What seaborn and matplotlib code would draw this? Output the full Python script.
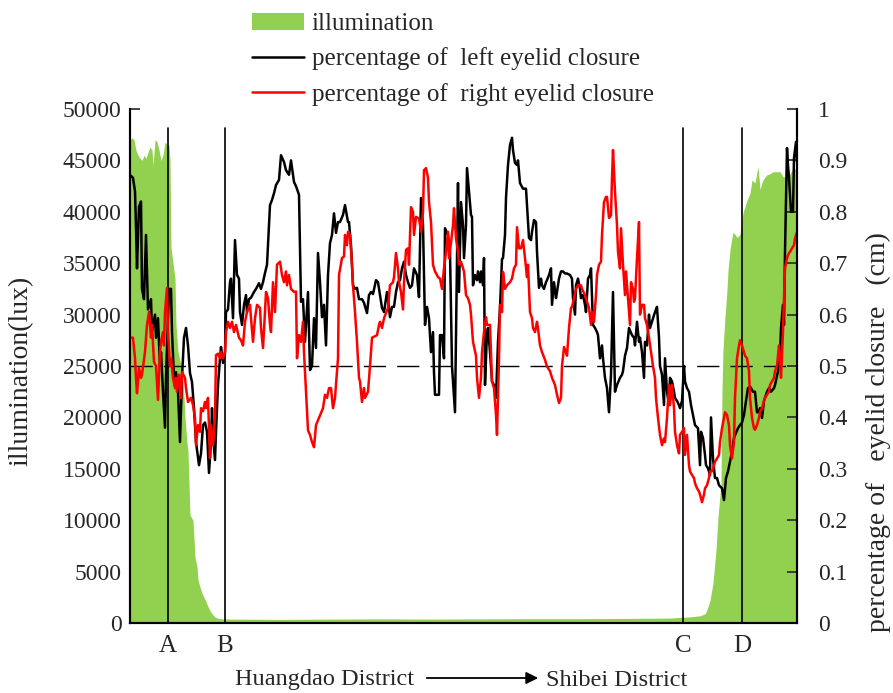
import seaborn as sns
import matplotlib.pyplot as plt
import numpy as np

# route position (arbitrary units along the drive) and readings
black_pos = [1, 3, 5, 6, 7, 9, 11, 12, 14, 16, 18, 21, 22, 25, 26, 28, 30, 31, 33, 35,
             36, 39, 41, 42, 44, 46, 48, 50, 52, 54, 56, 58, 60, 62, 64, 66, 69, 71, 73, 75,
             77, 79, 81, 82, 83, 85, 86, 88, 90, 91, 93, 95, 96, 98, 100, 101, 103, 105, 107, 109,
             110, 112, 114, 116, 117, 119, 121, 124, 126, 129, 131, 133, 135, 137, 140, 142, 144, 146, 149, 151,
             154, 156, 159, 161, 164, 166, 169, 171, 173, 175, 178, 180, 182, 184, 186, 188, 190, 192, 194, 196,
             198, 200, 202, 204, 206, 208, 210, 213, 215, 218, 219, 221, 223, 225, 227, 229, 232, 234, 237, 239,
             241, 243, 246, 248, 250, 252, 254, 257, 259, 260, 262, 264, 266, 268, 270, 272, 274, 276, 278, 280,
             282, 284, 287, 289, 291, 293, 295, 297, 299, 301, 303, 304, 305, 309, 310, 312, 314, 315, 318, 320,
             322, 324, 325, 328, 329, 331, 333, 334, 336, 337, 339, 341, 342, 343, 345, 347, 348, 350, 351, 353,
             354, 355, 357, 358, 360, 362, 364, 366, 368, 370, 372, 373, 375, 376, 378, 380, 382, 383, 385, 387,
             388, 390, 391, 393, 396, 397, 399, 401, 402, 404, 406, 407, 409, 411, 412, 414, 416, 417, 419, 421,
             422, 424, 426, 427, 429, 431, 433, 435, 437, 440, 442, 443, 445, 446, 448, 450, 451, 453, 455, 456,
             458, 460, 461, 463, 465, 467, 468, 470, 472, 473, 475, 477, 479, 481, 483, 485, 487, 490, 492, 493,
             495, 497, 499, 501, 502, 504, 505, 507, 509, 510, 512, 514, 515, 517, 519, 520, 523, 525, 527, 529,
             530, 532, 534, 535, 537, 539, 540, 542, 544, 545, 547, 549, 550, 552, 554, 555, 557, 559, 561, 563,
             565, 568, 570, 571, 573, 575, 576, 578, 580, 581, 583, 585, 587, 589, 592, 594, 596, 598, 600, 602,
             604, 606, 608, 610, 612, 614, 616, 618, 620, 621, 623, 625, 627, 629, 630, 632, 634, 635, 637, 639,
             641, 644, 645, 648, 650, 651, 653, 654, 655, 657, 658, 659, 661, 663, 664, 666, 667]
black_val = [.87, .866, .84, .77, .69, .81, .82, .65, .63, .755, .61, .63, .566, .60, .555, .593, .50, .527, .45, .38,
             .477, .65, .65, .566, .477, .488, .45, .352, .477, .555, .574, .54, .486, .469, .418, .352, .307, .33, .385, .39,
             .372, .292, .352, .418, .365, .317, .372, .463, .515, .537, .506, .527, .605, .61, .663, .67, .593, .745, .677, .67,
             .605, .58, .619, .638, .605, .63, .633, .644, .65, .661, .65, .663, .681, .697, .813, .823, .836, .852, .862, .91,
             .897, .881, .872, .90, .858, .85, .833, .625, .63, .547, .644, .492, .50, .593, .535, .72, .663, .595, .619, .54,
             .677, .739, .755, .797, .759, .78, .78, .794, .813, .78, .78, .735, .657, .65, .652, .63, .63, .623, .603, .638,
             .644, .64, .667, .663, .638, .613, .605, .644, .613, .595, .615, .615, .644, .663, .667, .69, .703, .677, .663, .652,
             .657, .69, .677, .634, .827, .774, .58, .615, .593, .527, .566, .488, .444, .444, .56, .56, .515, .768, .755, .722,
             .50, .438, .41, .856, .644, .819, .774, .71, .774, .885, .839, .794, .79, .657, .677, .667, .684, .663, .684, .657,
             .71, .463, .566, .574, .527, .47, .463, .438, .547, .613, .708, .71, .755, .827, .891, .93, .944, .92, .895, .891,
             .90, .856, .852, .845, .845, .813, .749, .745, .761, .784, .78, .722, .652, .67, .657, .65, .663, .667, .677, .69,
             .619, .663, .632, .644, .67, .684, .684, .68, .68, .677, .67, .632, .60, .657, .67, .65, .632, .638, .619, .605,
             .67, .677, .69, .58, .574, .566, .56, .515, .54, .515, .477, .457, .41, .483, .644, .45, .463, .477, .483, .49,
             .52, .535, .574, .565, .56, .555, .54, .586, .547, .555, .527, .477, .547, .54, .60, .574, .593, .605, .615, .555,
             .50, .483, .424, .515, .45, .424, .477, .47, .45, .438, .432, .424, .418, .432, .50, .47, .457, .45, .424, .405,
             .385, .379, .307, .372, .36, .327, .307, .301, .288, .40, .32, .282, .282, .268, .262, .239, .282, .295, .314, .333,
             .36, .37, .379, .385, .39, .405, .432, .457, .46, .457, .45, .45, .41, .41, .418, .399, .432, .438, .45, .457,
             .45, .457, .463, .49, .515, .574, .619, .58, .722, .924, .89, .866, .80, .80, .905, .936, .897]

red_pos = [1, 3, 5, 6, 7, 9, 11, 12, 15, 17, 19, 21, 22, 24, 26, 28, 30, 31, 33, 34,
           35, 37, 38, 40, 41, 43, 45, 46, 47, 49, 51, 52, 55, 56, 58, 61, 63, 65, 66, 68,
           70, 71, 73, 75, 76, 78, 80, 81, 83, 85, 86, 88, 90, 91, 93, 95, 96, 98, 100, 102,
           104, 106, 109, 111, 113, 115, 117, 120, 121, 123, 125, 127, 130, 131, 133, 135, 136, 138, 140, 141,
           143, 145, 147, 150, 152, 154, 156, 157, 159, 161, 164, 166, 167, 169, 171, 173, 174, 176, 178, 180,
           182, 184, 186, 189, 191, 193, 195, 197, 199, 201, 203, 205, 208, 209, 212, 214, 215, 217, 218, 220,
           222, 223, 225, 227, 229, 230, 232, 234, 235, 238, 240, 242, 244, 247, 249, 250, 252, 254, 256, 258,
           260, 263, 264, 266, 268, 269, 271, 273, 274, 276, 278, 279, 281, 283, 284, 286, 289, 291, 293, 294,
           296, 298, 299, 301, 303, 305, 308, 310, 312, 314, 316, 318, 319, 321, 323, 324, 326, 328, 329, 331,
           333, 334, 336, 338, 340, 341, 343, 346, 347, 349, 351, 352, 354, 356, 357, 360, 362, 364, 366, 367,
           369, 370, 372, 373, 375, 377, 380, 382, 384, 386, 387, 389, 391, 393, 395, 397, 398, 400, 402, 403,
           405, 407, 408, 410, 412, 415, 417, 420, 422, 425, 427, 429, 431, 432, 434, 436, 437, 439, 441, 442,
           444, 446, 448, 451, 452, 455, 457, 459, 461, 462, 464, 466, 467, 469, 471, 472, 474, 476, 477, 479,
           481, 482, 483, 485, 487, 488, 490, 491, 493, 495, 496, 498, 500, 501, 503, 504, 505, 507, 509, 510,
           512, 514, 515, 517, 519, 521, 523, 525, 526, 528, 530, 532, 534, 535, 537, 539, 540, 542, 544, 545,
           547, 549, 550, 552, 554, 555, 557, 559, 560, 562, 564, 565, 567, 569, 570, 572, 574, 575, 577, 579,
           580, 582, 584, 585, 587, 589, 590, 592, 594, 595, 597, 599, 600, 602, 604, 605, 607, 609, 610, 612,
           614, 615, 617, 619, 620, 622, 624, 625, 627, 629, 630, 632, 634, 635, 637, 639, 640, 642, 644, 645,
           647, 649, 650, 651, 653, 654, 655, 657, 659, 660, 662, 664, 665, 667]
red_val = [.555, .555, .515, .477, .447, .496, .477, .483, .527, .58, .605, .555, .58, .508, .50, .434, .527, .547, .566, .54,
           .605, .652, .566, .50, .515, .477, .457, .477, .45, .483, .438, .488, .477, .457, .43, .438, .424, .399, .346, .385,
           .372, .418, .412, .43, .418, .438, .321, .385, .346, .399, .521, .524, .515, .527, .515, .527, .566, .586, .574, .586,
           .566, .58, .555, .55, .54, .586, .605, .619, .593, .547, .593, .619, .613, .574, .535, .605, .644, .632, .58, .566,
           .663, .605, .697, .703, .677, .663, .684, .657, .677, .65, .644, .645, .515, .56, .547, .586, .527, .45, .375, .366,
           .352, .342, .385, .399, .408, .418, .444, .438, .457, .457, .418, .438, .515, .677, .71, .713, .755, .735, .761, .755,
           .697, .657, .605, .547, .477, .47, .43, .457, .438, .45, .50, .555, .557, .56, .58, .586, .574, .593, .603, .613,
           .657, .663, .673, .72, .69, .663, .644, .61, .663, .726, .729, .697, .809, .80, .755, .79, .787, .761, .80, .881,
           .885, .866, .819, .78, .697, .684, .673, .67, .65, .69, .722, .761, .71, .74, .774, .807, .748, .722, .697, .703,
           .69, .684, .638, .632, .619, .60, .547, .52, .477, .438, .477, .527, .566, .595, .58, .58, .47, .457, .405, .366,
           .515, .619, .605, .683, .65, .657, .663, .67, .69, .697, .77, .729, .729, .745, .71, .673, .697, .605, .593, .574,
           .566, .586, .574, .54, .527, .512, .499, .49, .477, .463, .444, .428, .438, .50, .537, .527, .52, .574, .613, .615,
           .632, .65, .657, .657, .65, .638, .625, .613, .58, .605, .586, .638, .677, .697, .703, .755, .819, .829, .829, .788,
           .793, .866, .92, .839, .774, .722, .69, .768, .697, .638, .684, .632, .58, .663, .65, .625, .632, .71, .78, .60,
           .619, .619, .593, .58, .555, .527, .50, .477, .438, .399, .366, .346, .359, .352, .399, .463, .424, .463, .418, .372,
           .346, .33, .366, .372, .379, .327, .366, .307, .295, .288, .282, .272, .262, .256, .25, .235, .25, .262, .268, .282,
           .295, .295, .307, .314, .32, .327, .352, .379, .399, .41, .405, .385, .346, .32, .352, .438, .515, .54, .55, .54,
           .527, .52, .515, .49, .438, .399, .379, .376, .385, .399, .41, .418, .432, .438, .444, .45, .463, .47, .477, .49,
           .50, .54, .515, .477, .566, .632, .69, .71, .72, .722, .729, .735, .748, .761]

illum_pos = [0, 2, 4, 6, 8, 10, 12, 14, 16, 18, 20, 22, 23, 25, 27, 29, 31, 33, 35, 37,
             39, 40, 41, 43, 45, 46, 48, 50, 52, 54, 55, 57, 58, 60, 63, 65, 67, 68, 70, 72,
             75, 78, 80, 82, 85, 88, 92, 100, 150, 200, 250, 300, 350, 400, 450, 500, 540, 560, 570, 575,
             577, 580, 583, 586, 588, 591, 592, 593, 595, 597, 598, 600, 602, 603, 605, 607, 610, 613, 615, 617,
             620, 622, 625, 628, 630, 633, 637, 640, 643, 647, 650, 653, 657, 660, 663, 667]
illum_lux = [47000, 47200, 47000, 46000, 45500, 45200, 45000, 45500, 45200, 45800, 46300, 46000, 44500, 47000, 46800, 46000, 45000, 45500, 46800, 46500,
             46500, 45000, 36500, 35000, 33500, 29000, 26400, 25500, 24800, 22000, 20000, 17500, 16700, 10500, 10000, 6400, 5500, 4200, 3500, 2900,
             2300, 1600, 1200, 900, 580, 450, 400, 380, 350, 380, 400, 380, 400, 420, 420, 450, 480, 600, 700, 900,
             1260, 2200, 3900, 7100, 10300, 13600, 22700, 26600, 29800, 32400, 34300, 36300, 37500, 38000, 37800, 37500, 37800, 39900, 40500, 41100,
             41800, 43100, 42800, 44400, 42200, 43100, 43600, 43700, 43900, 43900, 43900, 43400, 43400, 43700, 44200, 44200]

section_pos = [38, 95, 553, 612]
section_names = ['A', 'B', 'C', 'D']

sns.set_style("ticks")
plt.rcParams['font.family'] = ['Liberation Serif', 'DejaVu Serif']
plt.rcParams['font.size'] = 17

fig = plt.figure(figsize=(8.93, 6.93), dpi=100)
ax = fig.add_axes([130 / 893, 1 - 623 / 693, 667 / 893, 514 / 693])
ax2 = ax.twinx()

# illumination as a filled bar area on the left axis
ax.fill_between(illum_pos, illum_lux, color='#92D050', linewidth=0, label='illumination')
ax.axhline(25000, color='black', lw=1.0, dashes=(16, 8))
for p in section_pos:
    ax.axvline(p, ymax=0.963, color='black', lw=1.2)

sns.lineplot(x=black_pos, y=black_val, ax=ax2, color='black', lw=1.8, estimator=None,
             label='percentage of  left eyelid closure')
sns.lineplot(x=red_pos, y=red_val, ax=ax2, color='#FF0000', lw=1.8, estimator=None,
             label='percentage of  right eyelid closure')

ax.set_xlim(0, 667)
ax.set_ylim(0, 50000)
ax2.set_ylim(0, 1)
ax.set_yticks(np.arange(0, 50001, 5000))
ax2.set_yticks(np.arange(0, 1.01, 0.1))
ax2.set_yticklabels([f'{v:g}' for v in np.round(np.arange(0, 1.01, 0.1), 1)])
ax.set_xticks(section_pos)
ax.set_xticklabels(section_names, fontsize=18)
ax.tick_params(axis='x', length=0, pad=9)
ax.tick_params(axis='y', direction='in', length=7, width=1.2, pad=6)
ax2.tick_params(axis='y', direction='in', length=7, width=1.2, pad=15)

for a in (ax, ax2):
    a.spines['top'].set_visible(False)
    for s in ('left', 'right', 'bottom'):
        a.spines[s].set_linewidth(1.5)
        a.spines[s].set_color('black')

ax.set_ylabel('illumination(lux)', fontsize=20)
ax.yaxis.set_label_coords(-0.145, 0.49)
ax2.set_ylabel('percentage of   eyelid closure   (cm)', rotation=90, fontsize=20)
ax2.yaxis.set_label_coords(1.103, 0.372)

# shared legend at the top
h1, l1 = ax.get_legend_handles_labels()
h2, l2 = ax2.get_legend_handles_labels()
ax2.get_legend().remove()
fig.legend(h1 + h2, l1 + l2, loc='upper left', bbox_to_anchor=(238 / 893, 1.0015),
           frameon=False, borderpad=0.05, handlelength=2.1, handletextpad=0.3,
           labelspacing=0.49, fontsize=18)

fig.text(325 / 893, 1 - 680 / 693, 'Huangdao District', ha='center', va='center', fontsize=17.5)
fig.text(546 / 893, 1 - 680 / 693, 'Shibei District', ha='left', va='center', fontsize=17.5)
fig.add_artist(plt.Annotation('', xy=(541 / 893, 1 - 678 / 693), xytext=(424 / 893, 1 - 678 / 693),
                              xycoords='figure fraction', textcoords='figure fraction',
                              arrowprops=dict(arrowstyle='-|>', color='black', lw=1.3, mutation_scale=18)))

fig.savefig('out.png', dpi=100)
